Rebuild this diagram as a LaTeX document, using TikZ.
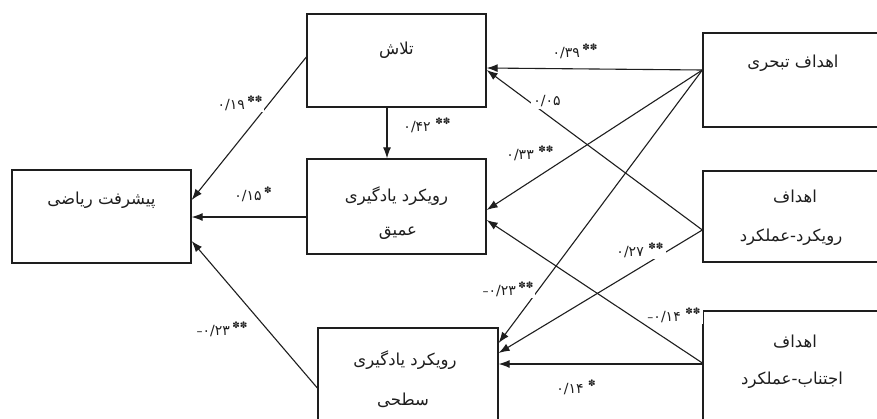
\documentclass[tikz,border=0pt]{standalone}
\usepackage{fontspec}
\usetikzlibrary{arrows.meta}
\TeXXeTstate=1
\newfontfamily\fa[Script=Arabic]{DejaVu Sans}
\newfontfamily\sym{DejaVu Sans}
\definecolor{ink}{HTML}{1E1E1E}
\tikzset{
  box/.style={draw=ink, line width=1.3pt, rectangle, inner sep=0pt},
  txt/.style={font=\fa\fontsize{16.5}{18}\selectfont, text=ink, inner sep=0pt},
  lbl/.style={font=\fa\fontsize{14}{16}\selectfont, text=ink, fill=white, inner sep=2pt},
  conn/.style={draw=ink, line width=1.1pt, -{Latex[length=11pt,width=8pt]}},
}
\newcommand{\stars}[1]{\raisebox{7pt}{\sym\fontsize{9}{9}\selectfont #1}}
\newcommand{\mns}{{\sym\fontsize{12}{14}\selectfont –}}
\begin{document}
\begin{tikzpicture}[x=1pt,y=-1pt]
\useasboundingbox (0,0) rectangle (877,418);
\clip (0,0) rectangle (877,418);
\fill[white] (0,0) rectangle (877,418);
% boxes
\node[box, minimum width=179pt, minimum height=93pt] (pish) at (101.5,216.5) {};
\node[box, minimum width=179pt, minimum height=93pt] (talash) at (396.5,60.5) {};
\node[box, minimum width=179pt, minimum height=95pt] (deep) at (396.5,206.5) {};
\node[box, minimum width=180pt, minimum height=100pt] (surf) at (408,378) {};
\node[box, minimum width=187pt, minimum height=94pt] (mast) at (796.5,80) {};
\node[box, minimum width=187pt, minimum height=91pt] (appr) at (796.5,216.5) {};
\node[box, minimum width=187pt, minimum height=114pt] (avoid) at (796.5,368) {};
% box texts
\node[txt] (tpish) at (101.5,200) {\beginR پیشرفت ریاضی\endR};
\node[txt] (ttal) at (396.5,50) {\beginR تلاش\endR};
\node[txt] (tdeep1) at (396.5,196) {\beginR رویکرد یادگیری\endR};
\node[txt] (tdeep2) at (398,233) {\beginR عمیق\endR};
\node[txt] (tsurf1) at (405,360) {\beginR رویکرد یادگیری\endR};
\node[txt] (tsurf2) at (403,400) {\beginR سطحی\endR};
\node[txt] (tmast) at (793,63) {\beginR اهداف تبحری\endR};
\node[txt] (tappr1) at (795,197) {\beginR اهداف\endR};
\node[txt] (tappr2) at (791,237) {\beginR رویکرد-عملکرد\endR};
\node[txt] (tavoid1) at (795,342) {\beginR اهداف\endR};
\node[txt] (tavoid2) at (792,380) {\beginR اجتناب-عملکرد\endR};
% connectors
\draw[conn] ([yshift=3.5pt]talash.west) -- ([yshift=16.5pt]pish.east);
\draw[conn] ([xshift=-9.5pt]talash.south) -- ([xshift=-9.5pt]deep.north);
\draw[conn] ([yshift=-10.5pt]deep.west) -- ([yshift=-0.5pt]pish.east);
\draw[conn] ([yshift=-10pt]surf.west) -- ([yshift=-24.5pt]pish.east);
\draw[conn] ([yshift=10pt]mast.west) -- ([yshift=-7.5pt]talash.east);
\draw[conn] ([yshift=-13.5pt]appr.west) -- ([yshift=-9.5pt]talash.east);
\draw[conn] ([yshift=10pt]mast.west) -- ([yshift=-3.5pt]deep.east);
\draw[conn] ([yshift=10pt]mast.west) -- ([yshift=35pt]surf.east);
\draw[conn] ([yshift=-13.5pt]appr.west) -- ([yshift=25pt]surf.east);
\draw[conn] ([yshift=5pt]avoid.west) -- ([yshift=-13.5pt]deep.east);
\draw[conn] ([yshift=4pt]avoid.west) -- ([yshift=14pt]surf.east);
% labels
\node[lbl] (l19) at (240,103) {۰/۱۹\,\stars{✽✽}};
\node[lbl] (l42) at (427,125) {۰/۴۲\,\,\stars{✽✽}};
\node[lbl] (l15) at (253,194) {۰/۱۵\,\stars{✽}};
\node[lbl] (l23a) at (222,329) {\mns۰/۲۳\,\stars{✽✽}};
\node[lbl] (l39) at (575,51) {۰/۳۹\,\stars{✽✽}};
\node[lbl] (l05) at (547,101) {۰/۰۵};
\node[lbl] (l33) at (530,153) {۰/۳۳\,\,\stars{✽✽}};
\node[lbl] (l23b) at (508,289) {\mns۰/۲۳\,\stars{✽✽}};
\node[lbl] (l27) at (640,250) {۰/۲۷\,\,\stars{✽✽}};
\node[lbl] (l14a) at (674,315) {\mns۰/۱۴\,\,\stars{✽✽}};
\node[lbl] (l14b) at (576,387) {۰/۱۴\,\,\stars{✽}};
\end{tikzpicture}
\end{document}
